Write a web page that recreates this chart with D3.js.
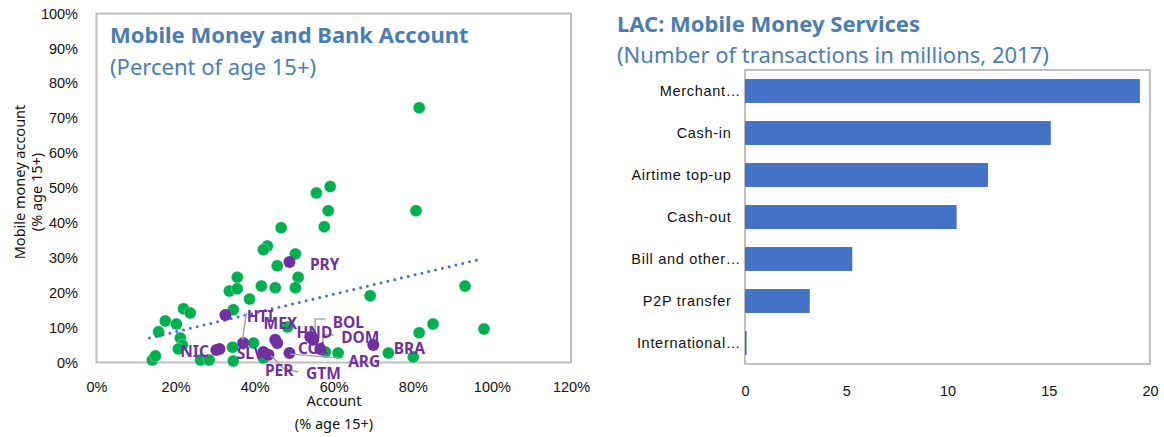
<!DOCTYPE html>
<meta charset="utf-8">
<title>Mobile money</title>
<style>
body {
  margin: 0;
  background: #fff;
}
svg {
  font-family: "Noto Sans", "Open Sans", sans-serif;
}
.title {
  fill: #4A7EB0;
  font-weight: bold;
  font-size: 22px;
}
.subtitle {
  fill: #4A7EB0;
  font-size: 22px;
}
.tick text {
  font-size: 14.5px;
  fill: #111;
}
.cats .tick text {
  font-size: 14.5px;
  letter-spacing: 0.7px;
}
.axis-title {
  font-size: 14.5px;
  fill: #111;
}
.frame {
  fill: none;
  stroke: #BFBFBF;
  stroke-width: 2px;
}
.lbl {
  fill: #7030A0;
  font-weight: bold;
  font-size: 15.5px;
}
.leader {
  fill: none;
  stroke: #A6A6A6;
  stroke-width: 1.5px;
}
</style>
<svg width="1164" height="437"></svg>
<script src="https://d3js.org/d3.v7.min.js"></script>
<script>
// Left chart: every economy, account vs mobile money account (% age 15+)
var worldAccount = [81.6, 59.1, 55.6, 58.6, 57.6, 80.8, 46.7, 43.2, 42.2, 50.3,
                    45.7, 51.0, 35.6, 41.7, 45.2, 50.3, 33.6, 35.6, 38.7, 69.2,
                    93.2, 22.0, 23.7, 34.6, 17.4, 20.2, 15.7, 21.2, 21.7, 20.7,
                    14.1, 14.9, 26.3, 28.5, 34.4, 39.7, 34.6, 42.2, 48.3, 57.9,
                    61.1, 73.8, 80.1, 81.6, 85.1, 98.0];
var worldMobile  = [73.0, 50.4, 48.6, 43.5, 38.9, 43.5, 38.6, 33.4, 32.3, 31.1,
                    27.7, 24.4, 24.4, 21.9, 21.4, 21.4, 20.5, 21.1, 18.2, 19.1,
                    21.9, 15.4, 14.2, 15.1, 11.9, 11.0, 8.8, 7.0, 5.0, 3.9,
                    0.7, 1.9, 0.7, 0.7, 4.4, 5.6, 0.4, 1.3, 10.2, 3.0,
                    2.7, 2.7, 1.6, 8.5, 11.0, 9.6];

// Latin America and the Caribbean, highlighted
var lacCodes     = ["HTI", "MEX", "NIC", "SLV", "PER", "GTM", "HND", "COL", "ARG", "BOL", "ECU", "DOM", "BRA", "PRY"];
var lacAccount   = [32.6, 37.1, 30.3, 31.1, 42.2, 43.5, 45.2, 45.7, 48.8, 54.1, 54.8, 56.6, 70.0, 48.8];
var lacMobile    = [13.6, 5.6, 3.6, 3.9, 3.0, 2.2, 6.5, 5.6, 2.7, 7.3, 6.5, 3.9, 5.0, 28.8];
// where Excel put each data label (same units as the axes)
var labelAccount = [41.4, 46.5, 24.8, 38.9, 46.2, 57.4, 55.1, 54.8, 67.7, 63.7, null, 66.7, 79.1, 57.7];
var labelMobile  = [13.1, 11.3, 3.3, 2.7, -2.4, -3.0, 8.5, 3.9, 0.4, 11.6, null, 7.3, 3.9, 28.0];
var leaderLines = [
  [[37.9, 14.2], [36.9, 6.5]],
  [[57.9, 12.5], [55.3, 12.5], [55.3, 7.9]],
  [[60.0, 7.9], [57.4, 7.9], [57.1, 4.6]],
  [[49.0, 2.4], [61.6, 1.3]],
  [[44.2, 1.9], [47.2, -1.6], [51.0, -2.7]]
];
// linear trend line end points
var trendAccount = [13.4, 97.5];
var trendMobile  = [7.0, 29.7];
var xTicks = [0, 20, 40, 60, 80, 100, 120];
var yTicks = [0, 10, 20, 30, 40, 50, 60, 70, 80, 90, 100];

// Right chart: LAC mobile money services
var services = ["Merchant…", "Cash-in", "Airtime top-up", "Cash-out", "Bill and other…", "P2P transfer", "International…"];
var transactions = [19.5, 15.1, 12.0, 10.45, 5.3, 3.2, 0.08];
var barTicks = [0, 5, 10, 15, 20];

var svg = d3.select("svg");

// ---------- scatter ----------
var x = d3.scaleLinear().domain([0, 120]).range([96.5, 571]);
var y = d3.scaleLinear().domain([0, 100]).range([362.5, 13.5]);

svg.append("rect")
    .attr("class", "frame")
    .attr("x", x(0)).attr("y", y(100))
    .attr("width", x(120) - x(0)).attr("height", y(0) - y(100));

svg.append("g")
    .attr("transform", "translate(" + x(0) + ",0)")
    .call(d3.axisLeft(y).tickValues(yTicks).tickSize(0).tickPadding(18.5)
        .tickFormat(function(d) { return d + "%"; }))
    .call(function(g) { g.select(".domain").remove(); });

svg.append("g")
    .attr("transform", "translate(0," + y(0) + ")")
    .call(d3.axisBottom(x).tickValues(xTicks).tickSize(0).tickPadding(19.5)
        .tickFormat(function(d) { return d + "%"; }))
    .call(function(g) { g.select(".domain").remove(); });

svg.append("text").attr("class", "title").attr("x", 110).attr("y", 43)
    .text("Mobile Money and Bank Account");
svg.append("text").attr("class", "subtitle").attr("x", 110).attr("y", 75)
    .text("(Percent of age 15+)");

svg.append("text").attr("class", "axis-title").attr("text-anchor", "middle")
    .attr("transform", "translate(25,182) rotate(-90)").text("Mobile money account");
svg.append("text").attr("class", "axis-title").attr("text-anchor", "middle")
    .attr("transform", "translate(42,192) rotate(-90)").text("(% age 15+)");
svg.append("text").attr("class", "axis-title").attr("text-anchor", "middle")
    .attr("x", 334).attr("y", 406).text("Account");
svg.append("text").attr("class", "axis-title").attr("text-anchor", "middle")
    .attr("x", 334).attr("y", 429).text("(% age 15+)");

svg.append("g").selectAll("circle")
    .data(worldAccount)
  .enter().append("circle")
    .attr("cx", function(d) { return x(d); })
    .attr("cy", function(d, i) { return y(worldMobile[i]); })
    .attr("r", 6)
    .style("fill", "#00B050")
    .style("stroke", "#fff")
    .style("stroke-opacity", 0.5)
    .style("stroke-width", 0.6);

svg.append("line")
    .attr("x1", x(trendAccount[0])).attr("y1", y(trendMobile[0]))
    .attr("x2", x(trendAccount[1])).attr("y2", y(trendMobile[1]))
    .style("stroke", "#4472C4")
    .style("stroke-width", 3)
    .style("stroke-linecap", "round")
    .style("stroke-dasharray", "0 7");

svg.append("g").selectAll("circle")
    .data(lacAccount)
  .enter().append("circle")
    .attr("cx", function(d) { return x(d); })
    .attr("cy", function(d, i) { return y(lacMobile[i]); })
    .attr("r", 6)
    .style("fill", "#7030A0");

var line = d3.line()
    .x(function(d) { return x(d[0]); })
    .y(function(d) { return y(d[1]); });
svg.append("g").selectAll("path")
    .data(leaderLines)
  .enter().append("path")
    .attr("class", "leader")
    .attr("d", line);

svg.append("g").selectAll("text")
    .data(lacCodes.filter(function(d, i) { return labelAccount[i] != null; }))
  .enter().append("text")
    .attr("class", "lbl")
    .attr("text-anchor", "middle")
    .attr("dy", "0.36em")
    .attr("x", function(d) { return x(labelAccount[lacCodes.indexOf(d)]); })
    .attr("y", function(d) { return y(labelMobile[lacCodes.indexOf(d)]); })
    .text(function(d) { return d; });

// ---------- bar chart ----------
var bx = d3.scaleLinear().domain([0, 20]).range([745, 1150]);
var by = d3.scaleBand().domain(services).range([70, 364]).paddingInner(0.43).paddingOuter(0.215);

svg.append("text").attr("class", "title").attr("x", 617).attr("y", 31.5)
    .text("LAC: Mobile Money Services");
svg.append("text").attr("class", "subtitle").attr("x", 617).attr("y", 63)
    .text("(Number of transactions in millions, 2017)");

svg.append("rect")
    .attr("class", "frame")
    .attr("x", bx(0)).attr("y", 70)
    .attr("width", bx(20) - bx(0)).attr("height", 294);

svg.append("g").selectAll("rect")
    .data(transactions)
  .enter().append("rect")
    .attr("x", bx(0))
    .attr("y", function(d, i) { return by(services[i]); })
    .attr("width", function(d) { return bx(d) - bx(0); })
    .attr("height", by.bandwidth())
    .style("fill", "#4472C4");

svg.append("g")
    .attr("class", "cats")
    .attr("transform", "translate(" + bx(0) + ",0)")
    .call(d3.axisLeft(by).tickSize(0).tickPadding(4)
        .tickFormat(function(d) { return d.slice(-1) == "…" ? d : d + "\u00a0\u00a0"; }))
    .call(function(g) { g.select(".domain").remove(); });

svg.append("g")
    .attr("transform", "translate(0,364)")
    .call(d3.axisBottom(bx).tickValues(barTicks).tickSize(0).tickPadding(22))
    .call(function(g) { g.select(".domain").remove(); });
</script>
